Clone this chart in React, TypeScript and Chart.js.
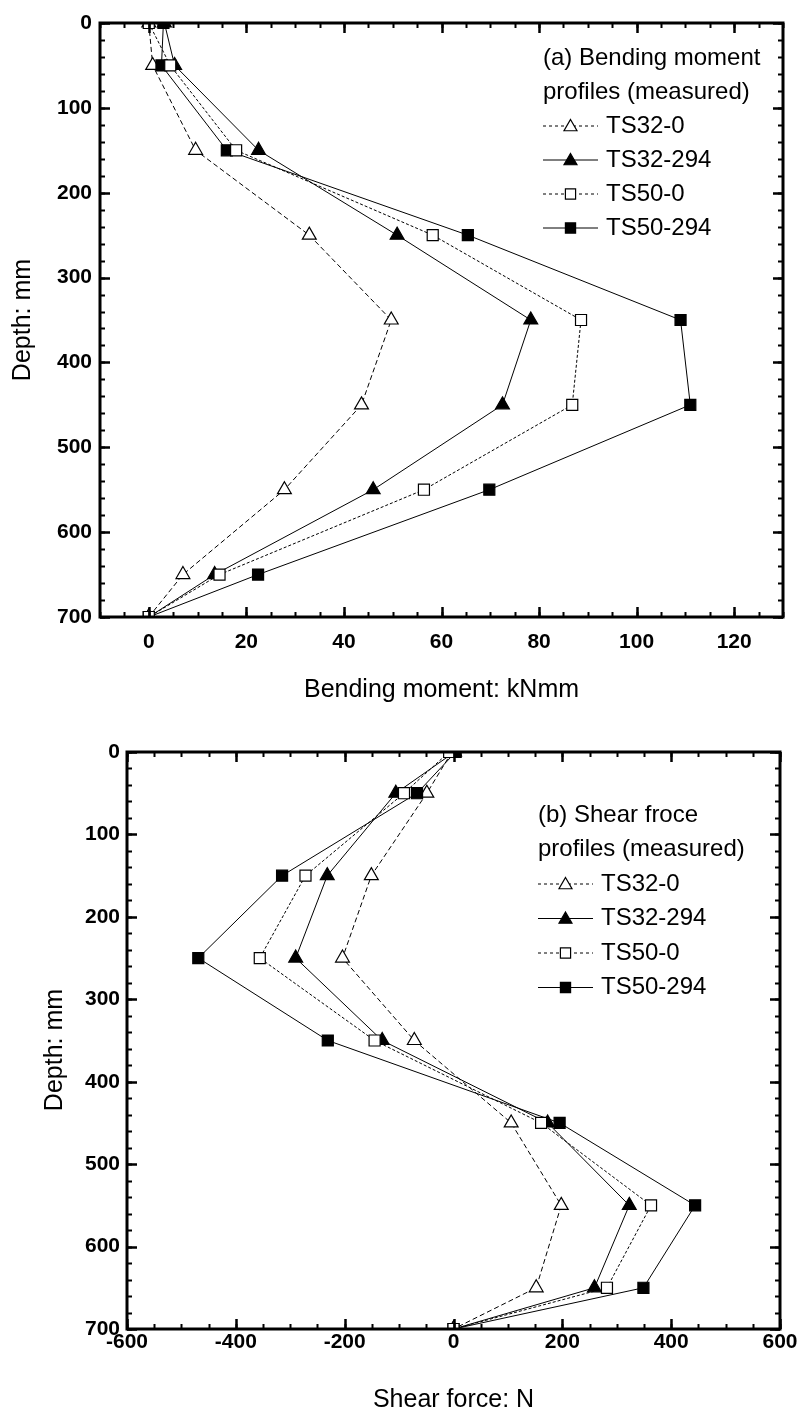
import React, { useEffect, useRef } from 'react';
import { Chart, registerables } from 'chart.js';

Chart.register(...registerables);

// ---------- data ----------
const depths = [0, 50, 150, 250, 350, 450, 550, 650, 700];
const seriesNames = ['TS32-0', 'TS32-294', 'TS50-0', 'TS50-294'];

// (a) bending moment, kNmm
const bmTS32_0 = [0, 0.8, 9.6, 32.9, 49.7, 43.6, 27.8, 7.0, 0];
const bmTS32_294 = [3.2, 5.3, 22.5, 50.9, 78.3, 72.5, 46.0, 13.5, 0];
const bmTS50_0 = [0, 4.4, 17.9, 58.2, 88.6, 86.8, 56.4, 14.5, 0];
const bmTS50_294 = [3.0, 2.6, 16.0, 65.4, 109.0, 111.0, 69.8, 22.4, 0];

// (b) shear force, N
const sfTS32_0 = [-3, -49, -151, -204, -72, 106, 198, 152, 0];
const sfTS32_294 = [2, -106, -232, -290, -131, 173, 323, 259, 0];
const sfTS50_0 = [-8, -91, -272, -356, -145, 161, 363, 282, 0];
const sfTS50_294 = [4, -67, -315, -469, -231, 195, 444, 349, 0];

// ticks
const bmXTicks = [0, 20, 40, 60, 80, 100, 120];
const sfXTicks = [-600, -400, -200, 0, 200, 400, 600];
const depthTicks = [0, 100, 200, 300, 400, 500, 600, 700];

const bmLegendTitle = ['(a) Bending moment', 'profiles (measured)'];
const sfLegendTitle = ['(b) Shear froce', 'profiles (measured)'];
const bmXTitle = 'Bending moment: kNmm';
const sfXTitle = 'Shear force: N';
const yTitle = 'Depth: mm';

const FONT = '"Liberation Sans", Arial, Helvetica, sans-serif';

// styles per series
const seriesStyle = [
  { dash: [5, 3], shape: 'triangle', filled: false, order: 1 },
  { dash: [], shape: 'triangle', filled: true, order: 1 },
  { dash: [3, 2], shape: 'rect', filled: false, order: 0 },
  { dash: [], shape: 'rect', filled: true, order: 0 },
];

function buildDatasets(values: number[][]) {
  return values.map((vals, i) => {
    const st = seriesStyle[i];
    return {
      label: seriesNames[i],
      data: vals.map((v, k) => ({ x: v, y: depths[k] })),
      showLine: true,
      order: st.order,
      borderColor: '#000',
      borderWidth: 1,
      borderDash: st.dash,
      pointStyle: st.shape,
      pointRadius: st.shape === 'triangle' ? 8 : 7.8,
      pointBorderWidth: 1.2,
      pointBorderColor: '#000',
      pointBackgroundColor: st.filled ? '#000' : '#fff',
      tension: 0,
    };
  });
}

function drawMarker(ctx: CanvasRenderingContext2D, shape: string, x: number, y: number, r: number, filled: boolean) {
  ctx.save();
  ctx.setLineDash([]);
  ctx.beginPath();
  if (shape === 'triangle') {
    const s = r * Math.sqrt(3) / 2;
    ctx.moveTo(x, y - r);
    ctx.lineTo(x + s, y + r / 2);
    ctx.lineTo(x - s, y + r / 2);
    ctx.closePath();
  } else {
    const h = r * Math.SQRT1_2;
    ctx.rect(x - h, y - h, 2 * h, 2 * h);
  }
  ctx.fillStyle = filled ? '#000' : '#fff';
  ctx.fill();
  ctx.lineWidth = 1.2;
  ctx.strokeStyle = '#000';
  ctx.stroke();
  ctx.restore();
}

const decorPlugin = {
  id: 'decor',
  afterDatasetsDraw(chart: any, _args: any, o: any) {
    const { ctx, chartArea: a, scales } = chart;
    const xs = scales.x;
    const ys = scales.y;
    ctx.save();
    ctx.strokeStyle = '#000';
    ctx.setLineDash([]);

    const xTicks = (start: number, end: number, step: number, len: number, lw: number) => {
      ctx.lineWidth = lw;
      ctx.beginPath();
      for (let v = start; v <= end + 1e-9; v += step) {
        const p = Math.round(xs.getPixelForValue(v)) + 0.5;
        ctx.moveTo(p, a.bottom);
        ctx.lineTo(p, a.bottom - len);
        ctx.moveTo(p, a.top);
        ctx.lineTo(p, a.top + len);
      }
      ctx.stroke();
    };
    const yTicks = (start: number, end: number, step: number, len: number, lw: number) => {
      ctx.lineWidth = lw;
      ctx.beginPath();
      for (let v = start; v <= end + 1e-9; v += step) {
        const p = Math.round(ys.getPixelForValue(v)) + 0.5;
        ctx.moveTo(a.left, p);
        ctx.lineTo(a.left + len, p);
        ctx.moveTo(a.right, p);
        ctx.lineTo(a.right - len, p);
      }
      ctx.stroke();
    };
    xTicks(o.xMinStart, o.xMax, o.xMinor, 5, 2);
    xTicks(o.xMajStart, o.xMax, o.xMajor, 10, 2.5);
    yTicks(0, 700, 20, 5, 2);
    yTicks(0, 700, 100, 10, 2.5);

    ctx.lineWidth = 3;
    ctx.strokeRect(a.left, a.top, a.right - a.left, a.bottom - a.top);

    // axis titles
    ctx.fillStyle = '#000';
    ctx.font = `25px ${FONT}`;
    ctx.textAlign = 'center';
    ctx.textBaseline = 'middle';
    ctx.fillText(o.xTitle, (a.left + a.right) / 2, o.xTitleY);
    ctx.save();
    ctx.translate(o.yTitleX, o.yTitleY);
    ctx.rotate(-Math.PI / 2);
    ctx.fillText(yTitle, 0, 0);
    ctx.restore();

    // legend
    ctx.font = `24px ${FONT}`;
    ctx.textAlign = 'left';
    o.legendTitle.forEach((t: string, i: number) => {
      ctx.fillText(t, o.lgX, o.lgY + i * o.lgDy);
    });
    chart.data.datasets.forEach((ds: any, i: number) => {
      const y = o.lgY + (i + 2) * o.lgDy;
      const st = seriesStyle[i];
      ctx.save();
      ctx.lineWidth = 1;
      ctx.setLineDash(st.dash.length ? [3, 3] : []);
      ctx.beginPath();
      ctx.moveTo(o.lgX, y);
      ctx.lineTo(o.lgX + o.lgLine, y);
      ctx.stroke();
      ctx.restore();
      drawMarker(ctx, st.shape, o.lgX + o.lgLine / 2, y + (st.shape === 'triangle' ? 1 : 0), st.shape === 'triangle' ? 7.5 : 7.2, st.filled);
      ctx.fillStyle = '#000';
      ctx.fillText(ds.label, o.lgX + o.lgLine + 8, y);
    });
    ctx.restore();
  },
};

function makeConfig(p: any) {
  const tickFont = { family: FONT, size: 21, weight: 'bold' as const };
  return {
    type: 'scatter' as const,
    data: { datasets: buildDatasets(p.values) },
    options: {
      responsive: false,
      animation: false as const,
      events: [] as any[],
      layout: { padding: p.padding },
      scales: {
        x: {
          type: 'linear' as const,
          min: p.xMin,
          max: p.xMax,
          afterBuildTicks: (s: any) => {
            s.ticks = p.xTicks.map((v: number) => ({ value: v }));
          },
          afterFit: (s: any) => {
            s.height = p.xAxisHeight;
          },
          grid: { display: false, drawTicks: false },
          border: { display: false },
          ticks: { font: tickFont, color: '#000', padding: p.xPad, maxRotation: 0, autoSkip: false },
        },
        y: {
          type: 'linear' as const,
          reverse: true,
          min: 0,
          max: 700,
          afterBuildTicks: (s: any) => {
            s.ticks = depthTicks.map((v) => ({ value: v }));
          },
          afterFit: (s: any) => {
            s.width = p.yAxisWidth;
          },
          grid: { display: false, drawTicks: false },
          border: { display: false },
          ticks: { font: tickFont, color: '#000', padding: p.yPad, autoSkip: false },
        },
      },
      plugins: {
        legend: { display: false },
        tooltip: { enabled: false },
        decor: p.decor,
      },
    },
    plugins: [decorPlugin],
  };
}

function ChartCanvas({ width, height, config }: { width: number; height: number; config: any }) {
  const ref = useRef<HTMLCanvasElement | null>(null);
  useEffect(() => {
    if (!ref.current) return;
    const chart = new Chart(ref.current, config);
    return () => chart.destroy();
  }, []);
  return <canvas ref={ref} width={width} height={height} style={{ display: 'block', width, height }} />;
}

export default function App() {
  const cfgA = makeConfig({
    values: [bmTS32_0, bmTS32_294, bmTS50_0, bmTS50_294],
    xMin: -10,
    xMax: 130,
    xTicks: bmXTicks,
    padding: { left: 0, top: 23, right: 19, bottom: 0 },
    xAxisHeight: 103,
    yAxisWidth: 100,
    xPad: 13,
    yPad: 8,
    decor: {
      xMinStart: -10, xMajStart: 0, xMax: 130, xMinor: 5, xMajor: 20,
      xTitle: bmXTitle, xTitleY: 690,
      yTitleX: 23, yTitleY: 320,
      legendTitle: bmLegendTitle,
      lgX: 543, lgY: 58, lgDy: 34, lgLine: 55,
    },
  });
  const cfgB = makeConfig({
    values: [sfTS32_0, sfTS32_294, sfTS50_0, sfTS50_294],
    xMin: -600,
    xMax: 600,
    xTicks: sfXTicks,
    padding: { left: 0, top: 32, right: 22, bottom: 0 },
    xAxisHeight: 87,
    yAxisWidth: 127,
    xPad: 1,
    yPad: 7,
    decor: {
      xMinStart: -600, xMajStart: -600, xMax: 600, xMinor: 50, xMajor: 200,
      xTitle: sfXTitle, xTitleY: 680,
      yTitleX: 55, yTitleY: 330,
      legendTitle: sfLegendTitle,
      lgX: 538, lgY: 95, lgDy: 34.5, lgLine: 55,
    },
  });
  return (
    <div style={{ position: 'absolute', left: 0, top: 0, width: 802, height: 1416, background: '#fff' }}>
      <ChartCanvas width={802} height={720} config={cfgA} />
      <ChartCanvas width={802} height={696} config={cfgB} />
    </div>
  );
}
